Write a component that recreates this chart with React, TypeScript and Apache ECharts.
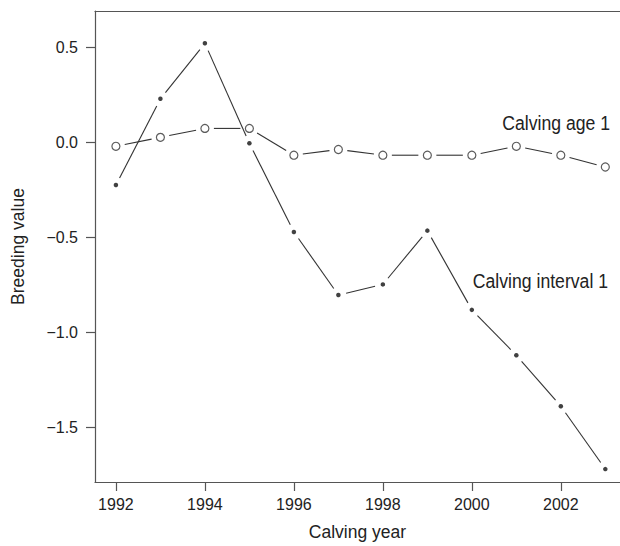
import React, { useEffect, useRef } from "react";
import * as echarts from "echarts";

const years = [1992, 1993, 1994, 1995, 1996, 1997, 1998, 1999, 2000, 2001, 2002, 2003];
const calvingInterval = [-0.225, 0.229, 0.521, -0.005, -0.472, -0.804, -0.748, -0.465, -0.882, -1.121, -1.389, -1.72];
const calvingAge = [-0.021, 0.026, 0.073, 0.073, -0.068, -0.038, -0.068, -0.068, -0.068, -0.021, -0.068, -0.13];
const xTicks = [1992, 1994, 1996, 1998, 2000, 2002];
const yTicks = [0.5, 0, -0.5, -1.0, -1.5];

const FONT = "'Liberation Sans', Arial, Helvetica, sans-serif";
const AXIS_COLOR = "#555";
const LINE_COLOR = "#333";
const TEXT_COLOR = "#222";

function segments(values: number[]) {
  const out: number[][] = [];
  for (let i = 0; i < values.length - 1; i++) {
    out.push([years[i], values[i], years[i + 1], values[i + 1]]);
  }
  return out;
}

function gapLine(gap: number) {
  return (params: any, api: any) => {
    const p1 = api.coord([api.value(0), api.value(1)]);
    const p2 = api.coord([api.value(2), api.value(3)]);
    const dx = p2[0] - p1[0];
    const dy = p2[1] - p1[1];
    const len = Math.sqrt(dx * dx + dy * dy);
    if (len <= gap * 2 + 1) return null;
    const ux = dx / len;
    const uy = dy / len;
    return {
      type: "line",
      shape: {
        x1: p1[0] + ux * gap,
        y1: p1[1] + uy * gap,
        x2: p2[0] - ux * gap,
        y2: p2[1] - uy * gap,
      },
      style: { stroke: LINE_COLOR, lineWidth: 1.1 },
    };
  };
}

export default function App() {
  const ref = useRef<HTMLDivElement>(null);
  useEffect(() => {
    if (!ref.current) return;
    const chart = echarts.init(ref.current, undefined, { renderer: "svg" });
    const fmt = (v: number) => {
      const s = Math.abs(v).toFixed(1);
      return v < 0 ? "\u2212" + s : s;
    };
    chart.setOption({
      animation: false,
      backgroundColor: "#fff",
      grid: { left: 95, top: 11, right: 0, bottom: 59, containLabel: false },
      xAxis: [
        {
          type: "value",
          min: 1991.53,
          max: 2003.33,
          name: "Calving year",
          nameLocation: "middle",
          nameGap: 41,
          nameTextStyle: { fontFamily: FONT, fontSize: 17.5, color: TEXT_COLOR },
          splitLine: { show: false },
          axisLine: { show: true, onZero: false, lineStyle: { color: AXIS_COLOR, width: 1.2 } },
          axisTick: { show: true, length: 9, customValues: xTicks, lineStyle: { color: AXIS_COLOR, width: 1.2 } },
          axisLabel: {
            customValues: xTicks,
            margin: 14,
            fontFamily: FONT,
            fontSize: 16,
            color: TEXT_COLOR,
            formatter: (v: number) => String(v),
          },
        },
        {
          type: "value",
          position: "top",
          min: 1991.53,
          max: 2003.33,
          splitLine: { show: false },
          axisLine: { show: true, onZero: false, lineStyle: { color: AXIS_COLOR, width: 1.2 } },
          axisTick: { show: false },
          axisLabel: { show: false },
        },
      ],
      yAxis: {
        type: "value",
        min: -1.788,
        max: 0.691,
        name: "Breeding value",
        nameLocation: "middle",
        nameGap: 68,
        nameTextStyle: { fontFamily: FONT, fontSize: 17.5, color: TEXT_COLOR },
        splitLine: { show: false },
        axisLine: { show: true, onZero: false, lineStyle: { color: AXIS_COLOR, width: 1.2 } },
        axisTick: { show: true, length: 9, customValues: yTicks, lineStyle: { color: AXIS_COLOR, width: 1.2 } },
        axisLabel: {
          customValues: yTicks,
          margin: 17,
          fontFamily: FONT,
          fontSize: 16,
          color: TEXT_COLOR,
          formatter: fmt,
        },
      },
      series: [
        {
          type: "custom",
          renderItem: gapLine(8),
          encode: { x: [0, 2], y: [1, 3] },
          data: segments(calvingInterval),
          silent: true,
        },
        {
          type: "custom",
          renderItem: gapLine(9),
          encode: { x: [0, 2], y: [1, 3] },
          data: segments(calvingAge),
          silent: true,
        },
        {
          type: "scatter",
          symbol: "circle",
          symbolSize: 4.5,
          itemStyle: { color: "#111" },
          data: years.map((y, i) => [y, calvingInterval[i]]),
          silent: true,
        },
        {
          type: "scatter",
          symbol: "circle",
          symbolSize: 8,
          itemStyle: { color: "#fff", borderColor: LINE_COLOR, borderWidth: 1.2 },
          data: years.map((y, i) => [y, calvingAge[i]]),
          silent: true,
        },
      ],
      graphic: [
        {
          type: "text",
          x: 610,
          y: 122.5,
          scaleX: 0.84,
          style: {
            text: "Calving age 1",
            fontFamily: FONT,
            fontSize: 21,
            fill: TEXT_COLOR,
            align: "right",
            verticalAlign: "middle",
          },
        },
        {
          type: "text",
          x: 608,
          y: 280,
          scaleX: 0.84,
          style: {
            text: "Calving interval 1",
            fontFamily: FONT,
            fontSize: 21,
            fill: TEXT_COLOR,
            align: "right",
            verticalAlign: "middle",
          },
        },
      ],
    });
    return () => chart.dispose();
  }, []);
  return (
    <div
      ref={ref}
      style={{ position: "absolute", left: 0, top: 0, width: 620, height: 546 }}
    />
  );
}
